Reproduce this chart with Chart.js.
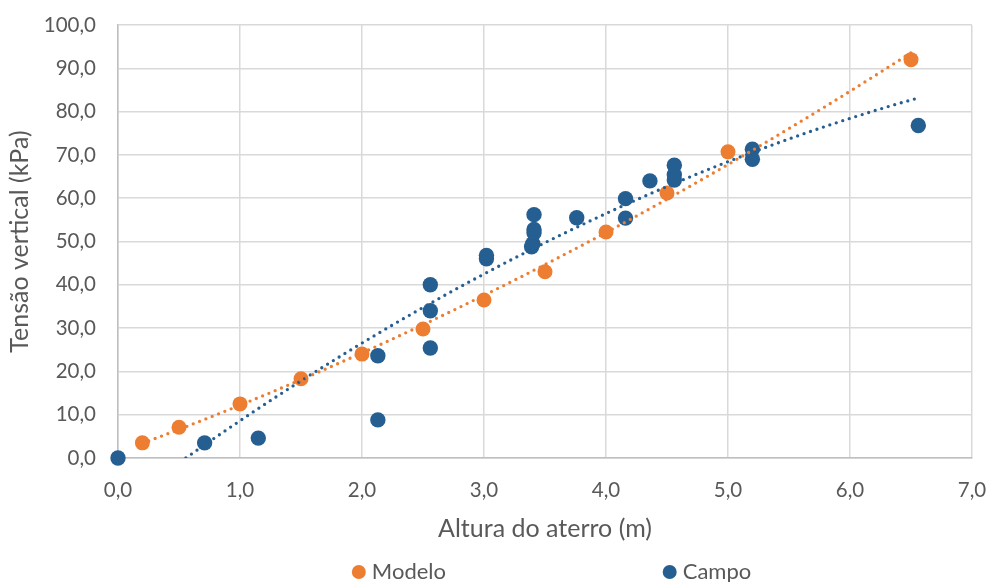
<!DOCTYPE html>
<html lang="pt">
<head>
<meta charset="utf-8">
<title>Tensão vertical x Altura do aterro</title>
<script src="https://cdn.jsdelivr.net/npm/chart.js@4/dist/chart.umd.min.js"></script>
<style>
  html, body { margin: 0; padding: 0; background: #ffffff; }
  #wrap { width: 990px; height: 582px; position: relative; }
</style>
</head>
<body>
<div id="wrap"><canvas id="chart"></canvas></div>
<script>
// Modelo: altura do aterro (m) e tensão vertical (kPa)
const modeloX = [0.2, 0.5, 1.0, 1.5, 2.0, 2.5, 3.0, 3.5, 4.0, 4.5, 5.0, 6.5];
const modeloY = [3.5, 7.1, 12.5, 18.3, 24.0, 29.8, 36.5, 43.0, 52.2, 61.2, 70.7, 92.0];

// Campo: medições de instrumentação
const campoX = [0.0, 0.71, 1.15, 2.13, 2.13, 2.56, 2.56, 2.56, 3.02, 3.02,
                3.41, 3.41, 3.41, 3.40, 3.39, 3.76, 4.16, 4.16, 4.36, 4.56,
                4.56, 4.56, 5.20, 5.20, 6.56];
const campoY = [0.0, 3.5, 4.6, 8.8, 23.6, 25.4, 34.0, 40.0, 46.0, 46.8,
                56.2, 52.8, 52.0, 49.5, 48.8, 55.5, 59.9, 55.4, 64.0, 67.6,
                65.4, 64.2, 71.3, 69.0, 76.8];

const seriesNames = ['Modelo', 'Campo'];
const xTicks = [0, 1, 2, 3, 4, 5, 6, 7];
const yTicks = [0, 10, 20, 30, 40, 50, 60, 70, 80, 90, 100];

const ORANGE = '#ED7D31';
const BLUE = '#255E91';
const TEXT = '#595959';
const FONT = 'Lato, "Open Sans", sans-serif';

// least-squares polynomial of order 2 (trendline)
function quadFit(xs, ys) {
  let s = [0, 0, 0, 0, 0], t = [0, 0, 0];
  for (let i = 0; i < xs.length; i++) {
    let p = 1;
    for (let k = 0; k < 5; k++) { s[k] += p; p *= xs[i]; }
    t[0] += ys[i]; t[1] += ys[i] * xs[i]; t[2] += ys[i] * xs[i] * xs[i];
  }
  const M = [[s[0], s[1], s[2], t[0]], [s[1], s[2], s[3], t[1]], [s[2], s[3], s[4], t[2]]];
  for (let c = 0; c < 3; c++) {
    for (let r = c + 1; r < 3; r++) {
      const f = M[r][c] / M[c][c];
      for (let k = c; k < 4; k++) M[r][k] -= f * M[c][k];
    }
  }
  const coef = [0, 0, 0];
  for (let r = 2; r >= 0; r--) {
    let v = M[r][3];
    for (let k = r + 1; k < 3; k++) v -= M[r][k] * coef[k];
    coef[r] = v / M[r][r];
  }
  return coef; // a + b x + c x^2
}

function trendPoints(xs, ys, n) {
  const [a, b, c] = quadFit(xs, ys);
  const f = x => a + b * x + c * x * x;
  let x0 = Math.min(...xs);
  const x1 = Math.max(...xs);
  // start where the curve enters the plot (y >= 0)
  if (f(x0) < 0) {
    let lo = x0, hi = x1;
    for (let i = 0; i < 60; i++) { const m = (lo + hi) / 2; if (f(m) < 0) lo = m; else hi = m; }
    x0 = hi;
  }
  const pts = [];
  for (let i = 0; i <= n; i++) {
    const x = x0 + (x1 - x0) * i / n;
    pts.push({ x: x, y: f(x) });
  }
  return pts;
}

const toPts = (xs, ys) => xs.map((x, i) => ({ x: x, y: ys[i] }));
const fmt = v => Number(v).toFixed(1).replace('.', ',');

// legend drawn under the axis title, Excel-like spacing
const bottomLegend = {
  id: 'bottomLegend',
  afterDraw(chart) {
    const { ctx, chartArea } = chart;
    const items = [
      { label: seriesNames[0], color: ORANGE, at: 0.282 },
      { label: seriesNames[1], color: BLUE, at: 0.646 }
    ];
    const y = 572;
    ctx.save();
    ctx.font = '22px ' + FONT;
    ctx.textBaseline = 'middle';
    ctx.textAlign = 'left';
    items.forEach(it => {
      const cx = chartArea.left + chartArea.width * it.at;
      ctx.beginPath();
      ctx.arc(cx, y, 7, 0, Math.PI * 2);
      ctx.fillStyle = it.color;
      ctx.fill();
      ctx.fillStyle = TEXT;
      ctx.fillText(it.label, cx + 13, y);
    });
    ctx.restore();
  }
};

const trendStyle = color => ({
  type: 'line',
  showLine: true,
  borderColor: color,
  borderWidth: 3.3,
  borderDash: [0, 6.8],
  borderCapStyle: 'round',
  pointRadius: 0,
  pointHoverRadius: 0,
  fill: false,
  tension: 0,
  order: 0
});

new Chart(document.getElementById('chart'), {
  type: 'scatter',
  data: {
    datasets: [
      Object.assign({ label: 'Tendência ' + seriesNames[0], data: trendPoints(modeloX, modeloY, 120) }, trendStyle(ORANGE)),
      Object.assign({ label: 'Tendência ' + seriesNames[1], data: trendPoints(campoX, campoY, 120) }, trendStyle(BLUE)),
      {
        label: seriesNames[0],
        data: toPts(modeloX, modeloY),
        backgroundColor: ORANGE,
        borderColor: ORANGE,
        borderWidth: 0,
        pointRadius: 7.5,
        clip: false,
        order: 2
      },
      {
        label: seriesNames[1],
        data: toPts(campoX, campoY),
        backgroundColor: BLUE,
        borderColor: BLUE,
        borderWidth: 0,
        pointRadius: 7.7,
        clip: false,
        order: 1
      }
    ]
  },
  options: {
    responsive: true,
    maintainAspectRatio: false,
    animation: false,
    devicePixelRatio: 1,
    layout: { padding: { top: 25, right: 18, bottom: 36, left: 0 } },
    plugins: {
      legend: { display: false },
      tooltip: { enabled: false }
    },
    scales: {
      x: {
        type: 'linear',
        min: xTicks[0],
        max: xTicks[xTicks.length - 1],
        afterBuildTicks: s => { s.ticks = xTicks.map(v => ({ value: v })); },
        afterFit: s => { s.height = 88; s.paddingLeft = 0; s.paddingRight = 0; },
        ticks: {
          color: TEXT,
          font: { family: FONT, size: 20.5 },
          padding: 20,
          callback: v => fmt(v)
        },
        grid: { color: '#D9D9D9', lineWidth: 1.5, drawTicks: false },
        border: { color: '#BFBFBF', width: 1.5 },
        title: {
          display: true,
          text: 'Altura do aterro (m)',
          color: TEXT,
          font: { family: FONT, size: 25 },
          padding: { top: 0, bottom: 2 }
        }
      },
      y: {
        type: 'linear',
        min: yTicks[0],
        max: yTicks[yTicks.length - 1],
        afterBuildTicks: s => { s.ticks = yTicks.map(v => ({ value: v })); },
        afterFit: s => { s.width = 118; s.paddingTop = 0; s.paddingBottom = 0; },
        ticks: {
          color: TEXT,
          font: { family: FONT, size: 20.5 },
          padding: 22,
          callback: v => fmt(v)
        },
        grid: { color: '#D9D9D9', lineWidth: 1.5, drawTicks: false },
        border: { color: '#BFBFBF', width: 1.5 },
        title: {
          display: true,
          text: 'Tensão vertical (kPa)',
          color: TEXT,
          font: { family: FONT, size: 25 },
          padding: { top: 5, bottom: 0 }
        }
      }
    }
  },
  plugins: [bottomLegend]
});
</script>
</body>
</html>
